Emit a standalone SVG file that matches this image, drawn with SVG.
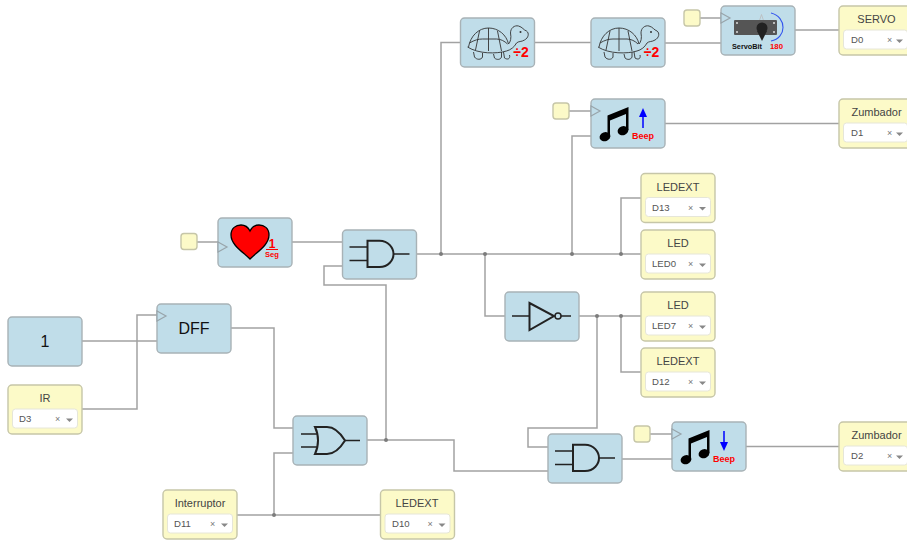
<svg xmlns="http://www.w3.org/2000/svg" xmlns:xlink="http://www.w3.org/1999/xlink" width="907" height="544" viewBox="0 0 907 544">
<style>
text{font-family:"Liberation Sans",Arial,sans-serif}
.b{fill:#c0dde9;stroke:#a8b2b6;stroke-width:1.4}
.y{fill:#fcfac8;stroke:#c6c6a8;stroke-width:1.4}
.s{fill:#fff;stroke:#e6e6d8;stroke-width:1}
.w{fill:none;stroke:#a2a2a2;stroke-width:1.5}
.j{fill:#7c7c7c}
.t{font-size:11px;fill:#444;text-anchor:middle}
.v{font-size:9.6px;fill:#555}
.x{font-size:9px;fill:#777}
.a{fill:#888}
.g{fill:none;stroke:#222;stroke-width:2}
.g1{fill:none;stroke:#222;stroke-width:1.3}
.c{fill:#c0dde9;stroke:#98a4aa;stroke-width:1.2}
.r{fill:#f00;font-weight:bold;text-anchor:middle}
.tu{fill:none;stroke:#333;stroke-width:.9}
</style>
<defs>
<g id="and">
<path class="g1" d="M7 17H25M7 30.500H25M51 24H67"/>
<path class="g" d="M25 10.700H37C46 10.700 51 18 51 24C51 30 46 37 37 37H25Z"/>
</g>
<g id="turtle">
<path class="tu" d="M8 29C10 18 18 10 28 10C38 10 46 17 48 26M7 29C18 36 36 36 46 33C50 32 54 29 56 25"/>
<path class="tu" d="M48 26C50 24 51 20 50 15C50 10 54 7 58 8C62 9 63 12 66 13C69 15 68 20 64 22C61 24 58 23 56 25"/>
<path class="tu" d="M19 13L15 32M28 10V33M37 13L41 33M9 25C14 22 18 21 22 21H36C40 21 44 23 47 26"/>
<path class="tu" d="M13 34L14 39C16 42 21 42 22 39L22 35M33 36L34 40C36 42 40 42 41 39L41 34M43 34L44 40C47 42 50 41 49 37"/>
<circle cx="60" cy="14" r="1" fill="#333"/>
</g>
<g id="notes">
<ellipse cx="14" cy="37.700" rx="5.500" ry="4.500" fill="#000" transform="rotate(-20 14 37.700)"/>
<ellipse cx="32" cy="31.700" rx="5.500" ry="4.500" fill="#000" transform="rotate(-20 32 31.700)"/>
<path d="M16.500 37V16.500L37.500 8V31H35V15L19 21.500V37Z" fill="#000"/>
</g>
<path id="clk" class="c" d="M0 7L9 12L0 17Z"/>
</defs>

<g id="connectors">
<path class="w" d="M292 242H342M416 254H641M441 254V42.500H461M534 42.500H591M665 43H721M795 30H839M700 18H721M569 111H591M665 123.500H839M572 254V136H591M621 254V198H641M485 254V316H505M579 316H641M621 316V372H641M597 316V428H528V447H548M367 440H454V471H548M386 440V285H324V266H342M622 459H672M650 434H672M746 446.500H839M237 515H380M274 515V453H293M231 328H274V428H293M82 341H157M82 409H137V315H157M197 242H218"/>
<g class="j">
<circle cx="441" cy="254" r="2"/><circle cx="485" cy="254" r="2"/><circle cx="572" cy="254" r="2"/><circle cx="621" cy="254" r="2"/>
<circle cx="597" cy="316" r="2"/><circle cx="621" cy="316" r="2"/><circle cx="386" cy="440" r="2"/><circle cx="274" cy="515" r="2"/>
</g>
</g>

<g id="turtle1"><rect class="b" x="460.500" y="18" width="74" height="49" rx="4"/><use xlink:href="#turtle" href="#turtle" x="460.500" y="18"/><text class="r" x="521" y="57" font-size="14px">÷2</text></g>
<g id="turtle2"><rect class="b" x="591" y="18" width="74" height="49" rx="4"/><use xlink:href="#turtle" href="#turtle" x="591" y="18"/><text class="r" x="651.500" y="57" font-size="14px">÷2</text></g>

<g id="servo-in"><rect class="y" x="684" y="10" width="16" height="16" rx="3"/></g>
<g id="servo"><rect class="b" x="721" y="6" width="74" height="49" rx="4"/><use xlink:href="#clk" href="#clk" x="721" y="6"/>
<path d="M759 22L761.500 14.500L764 22" fill="none" stroke="#bbb" stroke-width=".8"/>
<rect x="734" y="20" width="43" height="15" fill="#555" rx="1"/>
<g fill="#ddd"><circle cx="737" cy="23" r="1"/><circle cx="737" cy="32" r="1"/><circle cx="774" cy="23" r="1"/><circle cx="774" cy="32" r="1"/></g>
<circle cx="762" cy="28" r="5.500" fill="#222"/><path d="M757 31L762 41L767 31Z" fill="#222"/>
<path d="M771 13C787 17 787 38 771 41" fill="none" stroke="#3355ee" stroke-width="1.100"/>
<text x="747" y="49" font-size="7.300px" font-weight="bold" text-anchor="middle" fill="#111">ServoBit</text>
<text class="r" x="776.500" y="49" font-size="7.800px">180</text></g>
<g id="servo-out"><rect class="y" x="839" y="6" width="80" height="49" rx="4"/><text class="t" x="876.500" y="23">SERVO</text><rect class="s" x="843.500" y="30" width="64" height="19" rx="3"/><text class="v" x="851" y="43">D0</text><text class="x" x="887" y="43">×</text><path class="a" d="M896 39.500H903L899.500 43Z"/></g>

<g id="beep-up-in"><rect class="y" x="553" y="103" width="16" height="16" rx="3"/></g>
<g id="beep-up"><rect class="b" x="591" y="99" width="74" height="49" rx="4"/><use xlink:href="#clk" href="#clk" x="591" y="99"/><use xlink:href="#notes" href="#notes" x="591" y="99"/>
<path d="M643 128V115" stroke="#00f" stroke-width="1.500"/><path d="M639 117L643 108L647 117Z" fill="#00f"/>
<text class="r" x="643" y="138.500" font-size="9px">Beep</text></g>
<g id="zumbador-d1"><rect class="y" x="839" y="99" width="80" height="49" rx="4"/><text class="t" x="876.500" y="116">Zumbador</text><rect class="s" x="843.500" y="123" width="64" height="19" rx="3"/><text class="v" x="851" y="136">D1</text><text class="x" x="887" y="136">×</text><path class="a" d="M896 132.500H903L899.500 136Z"/></g>

<g id="ledext-d13"><rect class="y" x="641" y="173.500" width="74" height="49" rx="4"/><text class="t" x="678" y="190.500">LEDEXT</text><rect class="s" x="645.500" y="197.500" width="65" height="19" rx="3"/><text class="v" x="652" y="210.500">D13</text><text class="x" x="688" y="210.500">×</text><path class="a" d="M699 207H706L702.500 210.500Z"/></g>
<g id="led-0"><rect class="y" x="641" y="230" width="74" height="49" rx="4"/><text class="t" x="678" y="246.500">LED</text><rect class="s" x="645.500" y="254" width="65" height="19" rx="3"/><text class="v" x="652" y="267">LED0</text><text class="x" x="688" y="267">×</text><path class="a" d="M699 263.500H706L702.500 267Z"/></g>
<g id="led-7"><rect class="y" x="641" y="292" width="74" height="49" rx="4"/><text class="t" x="678" y="308.500">LED</text><rect class="s" x="645.500" y="316" width="65" height="19" rx="3"/><text class="v" x="652" y="329">LED7</text><text class="x" x="688" y="329">×</text><path class="a" d="M699 325.500H706L702.500 329Z"/></g>
<g id="ledext-d12"><rect class="y" x="641" y="348" width="74" height="49" rx="4"/><text class="t" x="678" y="364.500">LEDEXT</text><rect class="s" x="645.500" y="372" width="65" height="19" rx="3"/><text class="v" x="652" y="385">D12</text><text class="x" x="688" y="385">×</text><path class="a" d="M699 381.500H706L702.500 385Z"/></g>

<g id="heart-in"><rect class="y" x="181" y="233.500" width="16" height="16" rx="3"/></g>
<g id="heart"><rect class="b" x="218" y="218" width="74" height="49" rx="4"/><use xlink:href="#clk" href="#clk" x="218" y="235"/>
<path d="M250 259C243 252 231 245 231 235C231 228 236 225 241 225C245 225 248 227 250 231C252 227 255 225 259 225C264 225 269 228 269 235C269 245 257 252 250 259Z" fill="#f00" stroke="#000" stroke-width="1.300"/>
<text class="r" x="272" y="248" font-size="12px">1</text><path d="M266 249.500H278" stroke="#f00" stroke-width="1"/>
<text class="r" x="272" y="257" font-size="7.600px">Seg</text></g>

<g id="and1"><rect class="b" x="342.500" y="230" width="74" height="49" rx="4"/><use xlink:href="#and" href="#and" x="342.500" y="230"/></g>

<g id="const1"><rect class="b" x="8" y="317" width="74" height="49" rx="4"/><text x="45" y="347" font-size="16px" text-anchor="middle" fill="#111">1</text></g>
<g id="ir"><rect class="y" x="8" y="385" width="74" height="49" rx="4"/><text class="t" x="45" y="401.500">IR</text><rect class="s" x="12.500" y="409" width="65" height="19" rx="3"/><text class="v" x="19" y="422">D3</text><text class="x" x="55" y="422">×</text><path class="a" d="M66 418.500H73L69.500 422Z"/></g>
<g id="dff"><rect class="b" x="157" y="304" width="74" height="49" rx="4"/><use xlink:href="#clk" href="#clk" x="157" y="304"/><text x="194" y="334" font-size="16px" text-anchor="middle" fill="#111">DFF</text></g>

<g id="or"><rect class="b" x="293" y="416" width="74" height="49" rx="4"/>
<path class="g1" d="M301 434H317M301 447H317M345 440.500H360"/>
<path class="g" d="M315 427H327C335 427 341 434 345 440.500C341 447 335 454 327 454H315C319 446 319 435 315 427Z"/></g>
<g id="interruptor"><rect class="y" x="163" y="490" width="74" height="49" rx="4"/><text class="t" x="200" y="506.500">Interruptor</text><rect class="s" x="167.500" y="514" width="65" height="19" rx="3"/><text class="v" x="174" y="527">D11</text><text class="x" x="210" y="527">×</text><path class="a" d="M221 523.500H228L224.500 527Z"/></g>
<g id="ledext-d10"><rect class="y" x="380.500" y="490" width="74" height="49" rx="4"/><text class="t" x="417" y="506.500">LEDEXT</text><rect class="s" x="385" y="514" width="65" height="19" rx="3"/><text class="v" x="392" y="527">D10</text><text class="x" x="427.500" y="527">×</text><path class="a" d="M438.500 523.500H445.500L442 527Z"/></g>

<g id="not"><rect class="b" x="505" y="292" width="74" height="49" rx="4"/>
<path class="g1" d="M512 316H529M561 316H571"/>
<path class="g" d="M529.500 303L554 316L529.500 330Z"/><circle cx="558" cy="316" r="3" fill="none" stroke="#222" stroke-width="1.500"/></g>

<g id="and2"><rect class="b" x="548" y="434" width="74" height="49" rx="4"/><use xlink:href="#and" href="#and" x="548" y="434"/></g>
<g id="beep-down-in"><rect class="y" x="634" y="426" width="16" height="16" rx="3"/></g>
<g id="beep-down"><rect class="b" x="672" y="422" width="74" height="49" rx="4"/><use xlink:href="#clk" href="#clk" x="672" y="422"/><use xlink:href="#notes" href="#notes" x="672" y="422"/>
<path d="M724 431V444" stroke="#00f" stroke-width="1.500"/><path d="M720 442L724 451L728 442Z" fill="#00f"/>
<text class="r" x="724" y="461.500" font-size="9px">Beep</text></g>
<g id="zumbador-d2"><rect class="y" x="839" y="422" width="80" height="49" rx="4"/><text class="t" x="876.500" y="439">Zumbador</text><rect class="s" x="843.500" y="446" width="64" height="19" rx="3"/><text class="v" x="851" y="459">D2</text><text class="x" x="887" y="459">×</text><path class="a" d="M896 455.500H903L899.500 459Z"/></g>
</svg>
